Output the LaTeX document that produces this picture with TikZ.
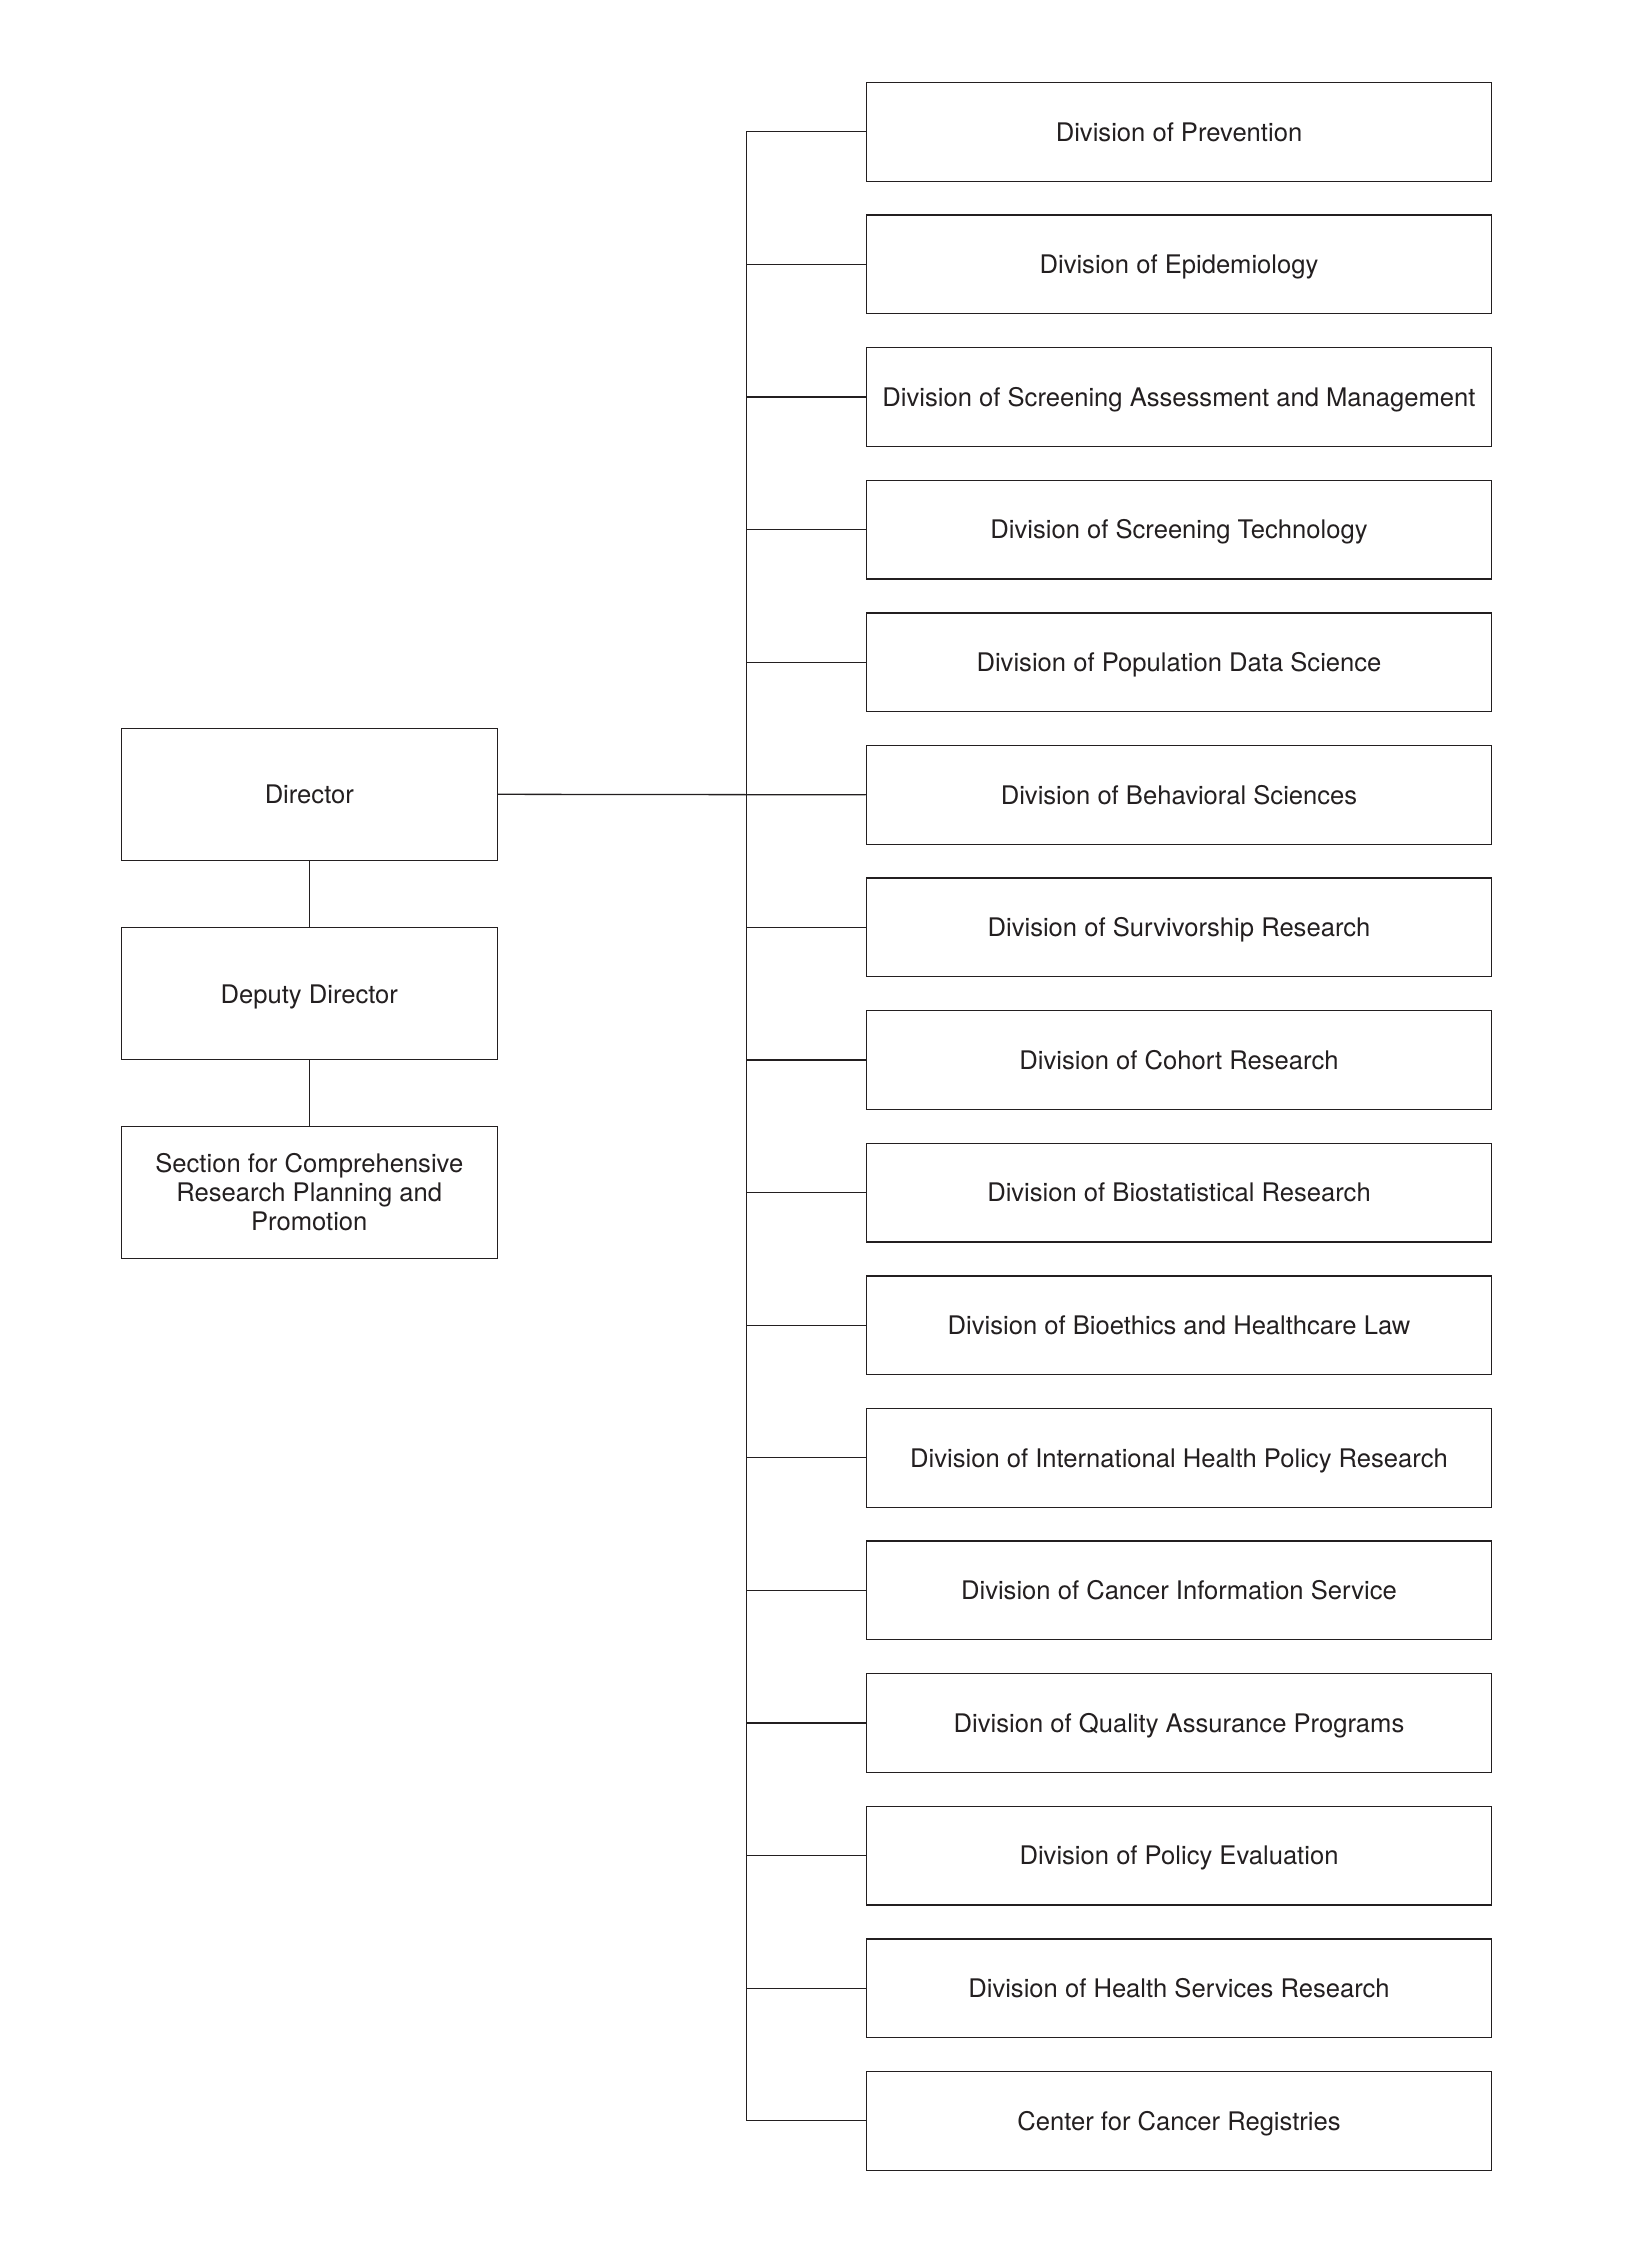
\documentclass[tikz,border=0pt]{standalone}
\usepackage{fontspec}
\setmainfont{TeX Gyre Heros}
\definecolor{ink}{HTML}{231F20}
\begin{document}
\begin{tikzpicture}[x=1pt,y=-1pt,
  every node/.style={font=\fontsize{25.6pt}{29pt}\selectfont, text=ink},
  oneline/.style={text height=23pt, text depth=4.6pt},
  divbox/.style={draw=ink, line width=1.3pt, minimum width=625.4pt, minimum height=98.7pt, inner sep=0pt, oneline, anchor=center},
  leftbox/.style={draw=ink, line width=1.3pt, minimum width=376pt, minimum height=132pt, inner sep=0pt, align=center, anchor=center},
  link/.style={draw=ink, line width=1.3pt}]
\useasboundingbox (0,0) rectangle (1625,2263);
\coordinate (trunk) at (746.3,0);
\node[leftbox, oneline] (dir) at (309.3,794.3) {Director};
\node[leftbox, oneline] (dep) at (309.3,993.8) {Deputy Director};
\node[leftbox] (sec) at (309.3,1192.3) {Section for Comprehensive\\Research Planning and\\Promotion};
\foreach \i/\t in {1/Division of Prevention,
  2/Division of Epidemiology,
  3/Division of Screening Assessment and Management,
  4/Division of Screening Technology,
  5/Division of Population Data Science,
  6/Division of Behavioral Sciences,
  7/Division of Survivorship Research,
  8/Division of Cohort Research,
  9/Division of Biostatistical Research,
  10/Division of Bioethics and Healthcare Law,
  11/Division of International Health Policy Research,
  12/Division of Cancer Information Service,
  13/Division of Quality Assurance Programs,
  14/Division of Policy Evaluation,
  15/Division of Health Services Research,
  16/Center for Cancer Registries}{
  \node[divbox] (d\i) at (1179,{131.8+(\i-1)*132.6}) {\t};
  \draw[link] (d\i.west) -- (d\i.west -| trunk);
}
\draw[link] (d1.west -| trunk) -- (d16.west -| trunk);
\draw[link] (dir.east) -- (d6.west);
\draw[link] (dir.south) -- (dep.north);
\draw[link] (dep.south) -- (sec.north);
\end{tikzpicture}
\end{document}
